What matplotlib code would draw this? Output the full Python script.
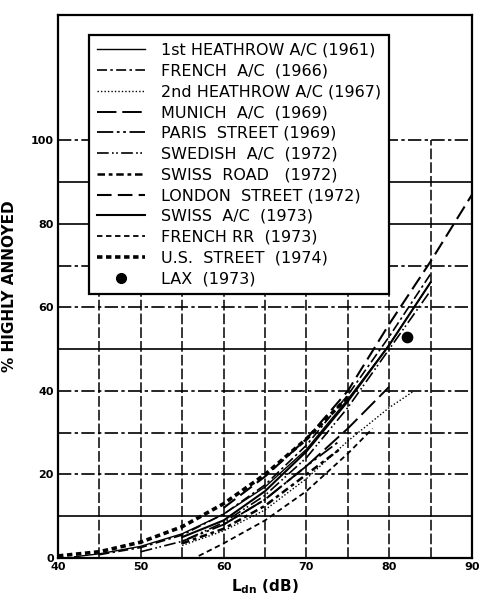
import numpy as np
import matplotlib
matplotlib.use("Agg")
import matplotlib.pyplot as plt
from matplotlib.lines import Line2D

# Survey curves: (Ldn dB, % highly annoyed)
heathrow1_x = [42, 45, 50, 55, 60, 65, 70, 75, 80, 85]
heathrow1_y = [0.3, 1.0, 2.8, 5.8, 10.5, 17.0, 26.0, 38.0, 51.0, 66.0]
french_ac_x = [45, 50, 55, 60, 65, 70, 75, 80, 85]
french_ac_y = [0.8, 2.5, 5.5, 10.5, 17.5, 27.0, 39.0, 53.0, 68.0]
heathrow2_x = [55, 60, 65, 70, 75, 80, 83]
heathrow2_y = [3.0, 6.5, 11.5, 19.0, 28.0, 36.0, 40.0]
munich_x = [60, 65, 70, 75, 80]
munich_y = [8.0, 14.0, 22.0, 31.0, 41.0]
paris_x = [55, 60, 65, 70, 74]
paris_y = [4.0, 8.0, 14.0, 22.0, 28.0]
swedish_x = [50, 55, 60, 65, 70, 75, 80, 85]
swedish_y = [1.5, 4.0, 8.5, 15.0, 24.0, 36.0, 50.0, 64.0]
swiss_road_x = [55, 60, 65, 70, 74]
swiss_road_y = [3.5, 7.0, 12.5, 20.0, 26.0]
london_x = [60, 65, 70, 75, 80, 85, 90]
london_y = [12.0, 19.5, 28.5, 40.0, 56.0, 71.0, 87.0]
swiss_ac_x = [55, 60, 65, 70, 75, 80, 85]
swiss_ac_y = [5.0, 9.0, 16.0, 25.5, 37.5, 51.0, 66.0]
french_rr_x = [57, 60, 65, 70, 75, 78]
french_rr_y = [0.5, 3.5, 9.0, 16.0, 25.0, 31.0]
us_street_x = [40, 45, 50, 55, 60, 65, 70, 75]
us_street_y = [0.5, 1.5, 3.8, 7.5, 13.0, 20.0, 28.5, 38.5]
lax_x = [82.2]
lax_y = [53.0]

labels = ["1st HEATHROW A/C (1961)", "FRENCH  A/C  (1966)",
          "2nd HEATHROW A/C (1967)", "MUNICH  A/C  (1969)",
          "PARIS  STREET (1969)", "SWEDISH  A/C  (1972)",
          "SWISS  ROAD   (1972)", "LONDON  STREET (1972)",
          "SWISS  A/C  (1973)", "FRENCH RR  (1973)",
          "U.S.  STREET  (1974)", "LAX  (1973)"]

xticks = [40, 50, 60, 70, 80, 90]
yticks = [0, 20, 40, 60, 80, 100]

#Line styles for each survey
styles = [
    dict(ls="-", lw=1.0),
    dict(ls=(0, (6, 2, 1.5, 2)), lw=1.2),
    dict(ls=(0, (1, 1.5)), lw=1.0),
    dict(ls=(0, (10, 3)), lw=1.4),
    dict(ls=(0, (9, 2, 1.5, 2, 1.5, 2)), lw=1.3),
    dict(ls=(0, (7, 2, 1, 1.5, 1, 2)), lw=1.2),
    dict(ls=(0, (3, 1.5, 1.5, 1.5)), lw=1.8),
    dict(ls=(0, (7, 3)), lw=1.5),
    dict(ls="-", lw=1.5),
    dict(ls=(0, (3, 2)), lw=1.3),
    dict(ls=(0, (1.5, 1)), lw=2.6),
]
series = [(heathrow1_x, heathrow1_y), (french_ac_x, french_ac_y),
          (heathrow2_x, heathrow2_y), (munich_x, munich_y),
          (paris_x, paris_y), (swedish_x, swedish_y),
          (swiss_road_x, swiss_road_y), (london_x, london_y),
          (swiss_ac_x, swiss_ac_y), (french_rr_x, french_rr_y),
          (us_street_x, us_street_y)]

fig = plt.figure(figsize=(4.8, 6.02), dpi=100)
ax = fig.add_axes([58/480, 44/602, 414/480, 543/602])
ax.set_xlim(40, 90)
ax.set_ylim(0, 130)

#Grid only drawn up to 100 %
for gx in range(45, 90, 5):
    ax.plot([gx, gx], [0, 100], color="black", lw=1.1, ls=(0, (7, 2)), zorder=1)
for gy in range(10, 101, 10):
    st = "-" if gy in (10, 50, 80, 90) else (0, (8, 2, 2, 2))
    ax.plot([40, 90], [gy, gy], color="black", lw=1.2, ls=st, zorder=1)

handles = []
for (sx, sy), st, lab in zip(series, styles, labels):
    h, = ax.plot(sx, sy, color="black", zorder=3, **st)
    handles.append(h)
ax.scatter(lax_x, lax_y, s=55, color="black", zorder=4)
handles.append(Line2D([], [], ls="none", marker="o", color="black", ms=7))

for sp in ax.spines.values():
    sp.set_linewidth(1.6)

ax.set_xticks(xticks)
ax.set_yticks(yticks)
ax.tick_params(length=0, labelsize=8, pad=3)
for t in ax.get_xticklabels() + ax.get_yticklabels():
    t.set_fontweight("bold")
ax.set_xlabel("L$_{\\mathbf{dn}}$ (dB)", fontsize=11, fontweight="bold", labelpad=4)
ax.set_ylabel("% HIGHLY ANNOYED", fontsize=11, fontweight="bold", labelpad=10)

leg = ax.legend(handles, labels, loc="upper left", bbox_to_anchor=(0.055, 0.978),
                fontsize=11.5, frameon=True, fancybox=False, edgecolor="black",
                handlelength=3.0, handletextpad=1.0, labelspacing=0.36,
                borderpad=0.5, framealpha=1)
leg.get_frame().set_linewidth(1.6)
leg.set_zorder(10)

fig.savefig("out.png", dpi=100)
